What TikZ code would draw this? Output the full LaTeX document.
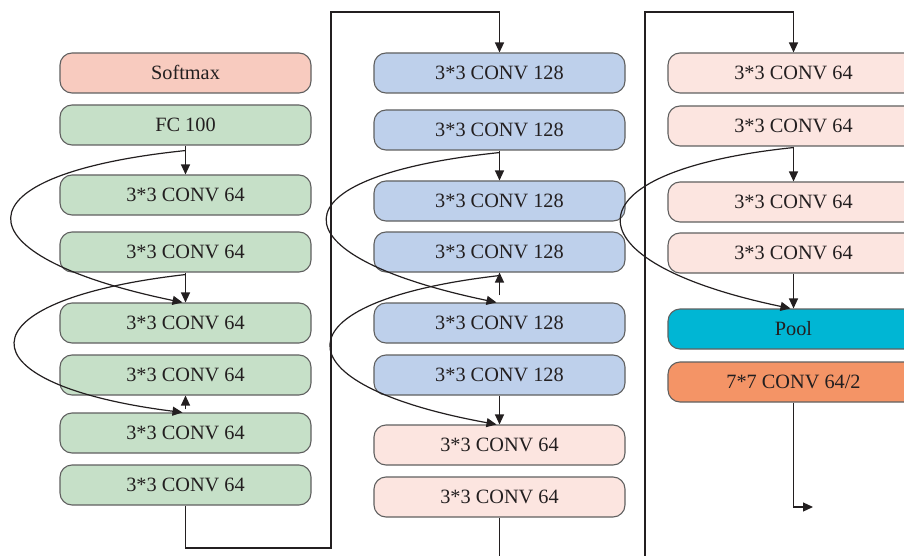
\documentclass[tikz,border=0pt]{standalone}
\usepackage{fontspec}
\setmainfont{Liberation Serif}
\usetikzlibrary{arrows.meta}
\definecolor{smfill}{HTML}{F8CBBF}
\definecolor{grfill}{HTML}{C6E0C8}
\definecolor{blfill}{HTML}{BED0EB}
\definecolor{pkfill}{HTML}{FCE5E0}
\definecolor{plfill}{HTML}{00B6D4}
\definecolor{orfill}{HTML}{F49466}
\definecolor{edge}{HTML}{606060}
\definecolor{ink}{HTML}{231F20}
\tikzset{
  layer/.style={draw=edge, line width=1.1pt, rounded corners=12pt,
    minimum width=251pt, minimum height=40pt, inner sep=0pt,
    text=ink, font=\fontsize{20.3}{24}\selectfont,
    text height=13.5pt, text depth=0pt},
  flow/.style={draw=ink, line width=1.2pt,
    -{Triangle[length=10pt,width=9pt]}},
  plain/.style={draw=ink, line width=1.2pt},
}
\begin{document}
\begin{tikzpicture}[x=1pt,y=-1pt]
\useasboundingbox (0,0) rectangle (904,556);
\clip (0,0) rectangle (904,556);

% left column
\node[layer, fill=smfill] (sm) at (185.5,73)  {Softmax};
\node[layer, fill=grfill] (fc) at (185.5,125) {FC 100};
\node[layer, fill=grfill] (l1) at (185.5,195) {3*3 CONV 64};
\node[layer, fill=grfill] (l2) at (185.5,252) {3*3 CONV 64};
\node[layer, fill=grfill] (l3) at (185.5,323) {3*3 CONV 64};
\node[layer, fill=grfill] (l4) at (185.5,375) {3*3 CONV 64};
\node[layer, fill=grfill] (l5) at (185.5,433) {3*3 CONV 64};
\node[layer, fill=grfill] (l6) at (185.5,485) {3*3 CONV 64};

% middle column
\node[layer, fill=blfill] (m1) at (499.5,73)  {3*3 CONV 128};
\node[layer, fill=blfill] (m2) at (499.5,130) {3*3 CONV 128};
\node[layer, fill=blfill] (m3) at (499.5,201) {3*3 CONV 128};
\node[layer, fill=blfill] (m4) at (499.5,252) {3*3 CONV 128};
\node[layer, fill=blfill] (m5) at (499.5,323) {3*3 CONV 128};
\node[layer, fill=blfill] (m6) at (499.5,375) {3*3 CONV 128};
\node[layer, fill=pkfill] (m7) at (499.5,445) {3*3 CONV 64};
\node[layer, fill=pkfill] (m8) at (499.5,497) {3*3 CONV 64};

% right column
\node[layer, fill=pkfill] (r1) at (793.5,73)  {3*3 CONV 64};
\node[layer, fill=pkfill] (r2) at (793.5,126) {3*3 CONV 64};
\node[layer, fill=pkfill] (r3) at (793.5,202) {3*3 CONV 64};
\node[layer, fill=pkfill] (r4) at (793.5,253) {3*3 CONV 64};
\node[layer, fill=plfill] (pool) at (793.5,329) {Pool};
\node[layer, fill=orfill] (c7) at (793.5,382) {7*7 CONV 64/2};

% routing points between columns
\coordinate (lb) at (331,548);
\coordinate (lt) at (331,12);
\coordinate (mb) at (645,556);
\coordinate (mt) at (645,12);
\coordinate (mend) at (499.5,556);
\coordinate (rin) at (813,507);

% straight connections
\draw[flow] (fc.south) -- (l1.north);
\draw[flow] (l2.south) -- (l3.north);
\draw[flow] ([yshift=3pt]l5.north) -- (l4.south);
\draw[flow] (m2.south) -- (m3.north);
\draw[flow] ([yshift=7pt]m5.north) -- (m4.south);
\draw[flow] (m6.south) -- (m7.north);
\draw[flow] (r2.south) -- (r3.north);
\draw[flow] (r4.south) -- (pool.north);

% links from one column to the next
\draw[flow] (l6.south) |- (lb) -- (lt) -| (m1.north);
\draw[flow] (mb) -- (mt) -| (r1.north);
\draw[plain] (m8.south) -- (mend);
\draw[flow] (c7.south) |- (rin);

% shortcut curves
\draw[flow] ([yshift=-5pt]fc.south) .. controls +(-232,24) and +(-227,-47) .. ([xshift=-3pt]l3.north);
\draw[flow] ([yshift=-2pt]l2.south) .. controls +(-228,26) and +(-222,-28) .. ([xshift=-3pt]l5.north);
\draw[flow] ([yshift=-2pt]m2.south) .. controls +(-230,24) and +(-225,-47) .. ([xshift=-3pt]m5.north);
\draw[flow] ([yshift=-3pt]m4.south) .. controls +(-225,26) and +(-220,-40) .. ([xshift=-3pt]m7.north);
\draw[flow] ([yshift=-1pt]r2.south) .. controls +(-230,24) and +(-225,-47) .. ([xshift=-3pt]pool.north);
\end{tikzpicture}
\end{document}
